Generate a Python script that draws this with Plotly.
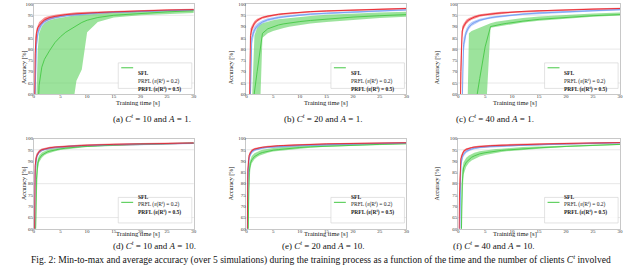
import plotly.graph_objects as go

# ---------------- data ----------------
T = [0, 0.25, 0.5, 0.75, 1, 1.5, 2, 2.5, 3, 4, 5, 6, 7, 8, 9, 10, 12, 15, 20, 25, 30]
Y_TICKS = [60, 65, 70, 75, 80, 85, 90, 95, 100]
X_TICKS = [0, 5, 10, 15, 20, 25, 30]
GRID_Y = [65, 80, 95]
SERIES_NAMES = ["SFL", "PRFL (ε(R<sup>t</sup>) = 0.2)", "<b>PRFL (ε(R<sup>t</sup>) = 0.5)</b>"]
CAPTIONS = ["(a)", "(b)", "(c)", "(d)", "(e)", "(f)"]
CLIENTS = [10, 20, 40, 10, 20, 40]
A_VALUES = [1, 1, 1, 10, 10, 10]

# panel (a)  C=10, A=1
A_SFL_MEAN = [10, 20, 35, 50, 64, 72, 75.5, 77.7, 79.5, 83, 85.5, 87.5, 89, 90.5, 91.8, 92.8, 94, 95, 95.8, 96.5, 97]
A_SFL_LO = [10, 10, 10, 10, 10, 15, 20, 25, 30, 35, 40, 45, 50, 66, 71, 87.5, 92, 94, 95, 95.5, 96]
A_SFL_HI = [10, 40, 60, 80, 87, 90, 91.5, 92.2, 92.8, 93.5, 94, 94.4, 94.7, 95, 95.2, 95.4, 95.8, 96.2, 96.8, 97.2, 97.5]
A_P2_MEAN = [10, 60, 82, 87, 89, 91, 92.2, 93, 93.5, 94, 94.5, 94.8, 95.1, 95.3, 95.5, 95.7, 96, 96.3, 96.8, 97.1, 97.4]
A_P2_LO = [10, 50, 78, 85, 87.5, 90, 91.3, 92.2, 92.8, 93.4, 94, 94.3, 94.6, 94.9, 95.1, 95.3, 95.6, 96, 96.5, 96.8, 97.1]
A_P2_HI = [10, 70, 85, 88.5, 90.5, 92, 93, 93.7, 94.1, 94.6, 95, 95.3, 95.6, 95.8, 96, 96.1, 96.4, 96.7, 97.1, 97.4, 97.7]
A_P5_MEAN = [10, 78, 87, 89.5, 90.5, 92, 93, 93.5, 94, 94.5, 95, 95.3, 95.5, 95.7, 95.8, 96, 96.2, 96.5, 97, 97.3, 97.5]
A_P5_LO = [10, 65, 84, 88, 89.5, 91, 92, 92.7, 93.2, 93.8, 94.3, 94.7, 95, 95.2, 95.4, 95.6, 95.8, 96.2, 96.6, 97, 97.2]
A_P5_HI = [10, 85, 89, 91, 92, 93, 94, 94.5, 94.8, 95.2, 95.6, 95.9, 96.1, 96.3, 96.4, 96.5, 96.7, 97, 97.4, 97.7, 97.9]

# panel (b)  C=20, A=1
B_SFL_MEAN = [10, 10, 20, 35, 48, 61, 70, 78, 87, 89, 90, 90.7, 91.2, 91.6, 91.9, 92.2, 92.7, 93.3, 94.2, 94.8, 95.3]
B_SFL_LO = [10, 10, 10, 10, 10, 20, 35, 50, 85, 87, 88, 88.8, 89.4, 89.9, 90.3, 90.7, 91.3, 92, 93, 93.8, 94.3]
B_SFL_HI = [10, 10, 25, 40, 55, 86, 89.5, 90.8, 91.5, 92.3, 92.8, 93.2, 93.5, 93.8, 94, 94.3, 94.7, 95.2, 95.8, 96.2, 96.5]
B_P2_MEAN = [10, 10, 20, 60, 85, 88.5, 90.2, 91.2, 92, 93, 93.6, 94, 94.3, 94.6, 94.9, 95.1, 95.5, 95.9, 96.5, 97, 97.4]
B_P2_LO = [10, 10, 15, 45, 82, 87, 89.2, 90.4, 91.3, 92.4, 93.1, 93.5, 93.9, 94.2, 94.5, 94.7, 95.1, 95.5, 96.1, 96.6, 97]
B_P2_HI = [10, 10, 30, 75, 87, 90, 91.3, 92.1, 92.8, 93.7, 94.2, 94.6, 94.8, 95.1, 95.3, 95.5, 95.9, 96.3, 96.9, 97.3, 97.7]
B_P5_MEAN = [10, 10, 40, 86, 89, 91.5, 92.7, 93.4, 94, 94.6, 95.1, 95.4, 95.7, 95.9, 96.1, 96.3, 96.6, 96.9, 97.3, 97.7, 98]
B_P5_LO = [10, 10, 30, 80, 87.5, 90.5, 92, 92.8, 93.4, 94.1, 94.6, 95, 95.3, 95.5, 95.7, 95.9, 96.2, 96.5, 97, 97.4, 97.7]
B_P5_HI = [10, 10, 55, 89, 90.5, 92.5, 93.4, 94, 94.5, 95, 95.5, 95.8, 96, 96.2, 96.4, 96.6, 96.9, 97.2, 97.6, 98, 98.3]

# panel (c)  C=40, A=1
C_SFL_MEAN = [10, 10, 10, 10, 10, 20, 30, 40, 52, 67, 81, 90, 90.6, 91, 91.4, 91.8, 92.4, 93.2, 94.1, 94.8, 95.3]
C_SFL_LO = [10, 10, 10, 10, 10, 10, 10, 15, 20, 30, 45, 89.5, 90, 90.4, 90.8, 91.1, 91.8, 92.6, 93.6, 94.3, 94.9]
C_SFL_HI = [10, 10, 10, 10, 10, 25, 87, 88, 88.5, 89.5, 90.5, 91.5, 92.1, 92.5, 92.9, 93.2, 93.8, 94.5, 95.3, 95.8, 96.2]
C_P2_MEAN = [10, 10, 25, 55, 82, 87.5, 89.8, 91, 91.8, 92.8, 93.5, 93.9, 94.3, 94.6, 94.9, 95.1, 95.5, 96, 96.6, 97.1, 97.5]
C_P2_LO = [10, 10, 20, 45, 78, 86, 88.8, 90.2, 91.1, 92.2, 93, 93.4, 93.8, 94.2, 94.5, 94.7, 95.1, 95.6, 96.2, 96.7, 97.1]
C_P2_HI = [10, 10, 30, 65, 85, 89, 91, 92, 92.6, 93.4, 94, 94.4, 94.7, 95, 95.3, 95.5, 95.9, 96.4, 97, 97.4, 97.8]
C_P5_MEAN = [10, 20, 70, 88, 90, 92, 93, 93.7, 94.2, 94.9, 95.3, 95.6, 95.8, 96, 96.2, 96.4, 96.7, 97, 97.4, 97.8, 98]
C_P5_LO = [10, 15, 55, 85, 88.8, 91, 92.2, 93, 93.6, 94.3, 94.8, 95.1, 95.4, 95.6, 95.8, 96, 96.3, 96.6, 97.1, 97.5, 97.7]
C_P5_HI = [10, 30, 80, 90, 91.2, 93, 93.8, 94.4, 94.8, 95.4, 95.8, 96.1, 96.3, 96.5, 96.6, 96.8, 97.1, 97.4, 97.8, 98.1, 98.3]

# panel (d)  C=10, A=10
D_SFL_MEAN = [10, 40, 82, 89, 91, 92.6, 93.5, 94, 94.4, 95, 95.4, 95.7, 96, 96.2, 96.4, 96.5, 96.8, 97.1, 97.5, 97.7, 97.9]
D_SFL_LO = [10, 25, 70, 86, 89.5, 91.5, 92.6, 93.2, 93.7, 94.4, 94.9, 95.3, 95.6, 95.8, 96, 96.2, 96.5, 96.8, 97.2, 97.5, 97.7]
D_SFL_HI = [10, 60, 88, 91, 92.5, 93.8, 94.5, 94.9, 95.2, 95.7, 96, 96.2, 96.4, 96.6, 96.8, 96.9, 97.1, 97.4, 97.8, 98, 98.2]
D_P2_MEAN = [10, 85, 91.5, 93.2, 94, 94.8, 95.2, 95.5, 95.7, 96, 96.3, 96.5, 96.6, 96.7, 96.8, 96.9, 97.1, 97.3, 97.5, 97.7, 97.9]
D_P2_LO = [10, 78, 89.5, 92.2, 93.2, 94.2, 94.7, 95, 95.2, 95.6, 95.9, 96.1, 96.2, 96.3, 96.4, 96.5, 96.7, 97, 97.2, 97.4, 97.6]
D_P2_HI = [10, 89, 93, 94, 94.7, 95.4, 95.7, 95.9, 96.1, 96.4, 96.7, 96.9, 97, 97.1, 97.2, 97.3, 97.5, 97.6, 97.8, 98, 98.2]
D_P5_MEAN = [10, 88, 92, 93.5, 94.2, 95, 95.4, 95.7, 95.9, 96.2, 96.4, 96.6, 96.7, 96.8, 96.9, 97, 97.2, 97.4, 97.6, 97.8, 98]
D_P5_LO = [10, 82, 90.5, 92.6, 93.5, 94.4, 94.9, 95.2, 95.4, 95.7, 96, 96.2, 96.3, 96.4, 96.5, 96.6, 96.8, 97, 97.3, 97.5, 97.7]
D_P5_HI = [10, 91, 93.2, 94.3, 94.9, 95.6, 95.9, 96.1, 96.3, 96.6, 96.8, 97, 97.1, 97.2, 97.3, 97.4, 97.6, 97.8, 98, 98.2, 98.3]

# panel (e)  C=20, A=10
E_SFL_MEAN = [10, 55, 85, 89, 90.5, 92, 92.8, 93.4, 93.8, 94.4, 94.8, 95.1, 95.4, 95.6, 95.8, 96, 96.3, 96.6, 97.1, 97.4, 97.7]
E_SFL_LO = [10, 40, 78, 87, 89, 90.8, 91.8, 92.5, 93, 93.7, 94.2, 94.6, 94.9, 95.1, 95.3, 95.5, 95.9, 96.3, 96.8, 97.2, 97.5]
E_SFL_HI = [10, 70, 89, 91, 92.3, 93.5, 94.2, 94.6, 95, 95.5, 95.8, 96.1, 96.3, 96.5, 96.6, 96.8, 97, 97.3, 97.6, 97.9, 98.1]
E_P2_MEAN = [10, 82, 91.5, 93.3, 94.1, 94.9, 95.3, 95.6, 95.8, 96.1, 96.3, 96.5, 96.6, 96.7, 96.8, 96.9, 97.1, 97.3, 97.6, 97.8, 98]
E_P2_LO = [10, 75, 89.8, 92.4, 93.4, 94.3, 94.8, 95.1, 95.3, 95.7, 95.9, 96.1, 96.2, 96.3, 96.4, 96.5, 96.7, 97, 97.3, 97.5, 97.7]
E_P2_HI = [10, 87, 92.8, 94, 94.7, 95.4, 95.8, 96, 96.2, 96.5, 96.7, 96.9, 97, 97.1, 97.2, 97.3, 97.5, 97.7, 97.9, 98.1, 98.3]
E_P5_MEAN = [10, 86, 92.5, 94, 94.6, 95.3, 95.7, 95.9, 96.1, 96.4, 96.6, 96.8, 96.9, 97, 97.1, 97.2, 97.4, 97.6, 97.8, 98, 98.1]
E_P5_LO = [10, 80, 91, 93.2, 94, 94.8, 95.2, 95.5, 95.7, 96, 96.2, 96.4, 96.5, 96.6, 96.7, 96.8, 97, 97.2, 97.5, 97.7, 97.8]
E_P5_HI = [10, 90, 93.6, 94.7, 95.2, 95.8, 96.1, 96.3, 96.5, 96.8, 97, 97.1, 97.2, 97.3, 97.4, 97.5, 97.7, 97.9, 98.1, 98.3, 98.4]

# panel (f)  C=40, A=10
F_SFL_MEAN = [10, 10, 40, 80, 87, 89.5, 90.8, 91.7, 92.3, 93.2, 93.7, 94.1, 94.4, 94.7, 94.9, 95.1, 95.5, 95.9, 96.5, 97, 97.4]
F_SFL_LO = [10, 10, 25, 70, 84, 87.5, 89.3, 90.3, 91, 92, 92.7, 93.2, 93.6, 94, 94.3, 94.5, 95, 95.5, 96.2, 96.7, 97.1]
F_SFL_HI = [10, 10, 55, 86, 89.5, 91.5, 92.5, 93.2, 93.7, 94.4, 94.8, 95.1, 95.3, 95.5, 95.7, 95.9, 96.2, 96.5, 97, 97.4, 97.7]
F_P2_MEAN = [10, 60, 88, 91.5, 93, 94.3, 95, 95.4, 95.7, 96.1, 96.3, 96.5, 96.6, 96.7, 96.8, 96.9, 97.1, 97.3, 97.6, 97.9, 98.1]
F_P2_LO = [10, 50, 84, 90.2, 92, 93.6, 94.4, 94.9, 95.2, 95.7, 95.9, 96.1, 96.2, 96.3, 96.4, 96.5, 96.8, 97, 97.3, 97.6, 97.8]
F_P2_HI = [10, 68, 90.5, 92.6, 93.8, 94.9, 95.5, 95.8, 96.1, 96.4, 96.6, 96.8, 96.9, 97, 97.1, 97.2, 97.4, 97.6, 97.9, 98.1, 98.3]
F_P5_MEAN = [10, 75, 91, 93.3, 94.3, 95.2, 95.7, 96, 96.2, 96.5, 96.7, 96.8, 96.9, 97, 97.1, 97.2, 97.3, 97.5, 97.8, 98, 98.2]
F_P5_LO = [10, 65, 88.5, 92.3, 93.6, 94.7, 95.2, 95.6, 95.8, 96.1, 96.3, 96.4, 96.5, 96.6, 96.7, 96.8, 97, 97.2, 97.5, 97.7, 97.9]
F_P5_HI = [10, 82, 92.5, 94, 94.9, 95.7, 96.1, 96.4, 96.6, 96.9, 97.1, 97.2, 97.3, 97.4, 97.5, 97.6, 97.7, 97.9, 98.1, 98.3, 98.5]

FIG_CAPTION = ("Fig. 2: Min-to-max and average accuracy (over 5 simulations) during the training process "
               "as a function of the time and the number of clients <i>C</i><sup><i>t</i></sup> involved")

# ---------------- styling / layout ----------------
W, H = 640, 278
FONT = "Liberation Serif"
LINE_COLORS = ["#45c845", "#6f9cf2", "#e8262e"]
FILL_COLORS = ["rgba(95,210,95,0.62)", "rgba(120,160,245,0.55)", "rgba(240,70,75,0.6)"]

# panel pixel boxes (left, right, top, bottom)
PANEL_X = [(33, 194), (247, 408), (460, 623)]
PANEL_Y = [(2, 94), (139, 231)]
XTITLE_GAP = [9, 11.5]

panels = [
    [(A_SFL_MEAN, A_SFL_LO, A_SFL_HI), (A_P2_MEAN, A_P2_LO, A_P2_HI), (A_P5_MEAN, A_P5_LO, A_P5_HI)],
    [(B_SFL_MEAN, B_SFL_LO, B_SFL_HI), (B_P2_MEAN, B_P2_LO, B_P2_HI), (B_P5_MEAN, B_P5_LO, B_P5_HI)],
    [(C_SFL_MEAN, C_SFL_LO, C_SFL_HI), (C_P2_MEAN, C_P2_LO, C_P2_HI), (C_P5_MEAN, C_P5_LO, C_P5_HI)],
    [(D_SFL_MEAN, D_SFL_LO, D_SFL_HI), (D_P2_MEAN, D_P2_LO, D_P2_HI), (D_P5_MEAN, D_P5_LO, D_P5_HI)],
    [(E_SFL_MEAN, E_SFL_LO, E_SFL_HI), (E_P2_MEAN, E_P2_LO, E_P2_HI), (E_P5_MEAN, E_P5_LO, E_P5_HI)],
    [(F_SFL_MEAN, F_SFL_LO, F_SFL_HI), (F_P2_MEAN, F_P2_LO, F_P2_HI), (F_P5_MEAN, F_P5_LO, F_P5_HI)],
]


def px(x):
    return x / W


def py(y):
    return 1 - y / H


fig = go.Figure()
layout = dict(width=W, height=H, margin=dict(l=0, r=0, t=0, b=0),
              paper_bgcolor="white", plot_bgcolor="white", showlegend=False,
              font=dict(family=FONT, color="#222"))
annotations = []
shapes = []

for i, series in enumerate(panels):
    row, col = divmod(i, 3)
    xl, xr = PANEL_X[col]
    yt, yb = PANEL_Y[row]
    sfx = "" if i == 0 else str(i + 1)
    xa, ya = "x" + sfx, "y" + sfx
    for k, (mean, lo, hi) in enumerate(series):
        fig.add_trace(go.Scatter(x=T + T[::-1], y=hi + lo[::-1], fill="toself",
                                 fillcolor=FILL_COLORS[k], line=dict(width=0),
                                 mode="lines", hoverinfo="skip", xaxis=xa, yaxis=ya))
    for k, (mean, lo, hi) in enumerate(series):
        fig.add_trace(go.Scatter(x=T, y=mean, mode="lines",
                                 line=dict(color=LINE_COLORS[k], width=0.9),
                                 xaxis=xa, yaxis=ya))
    axis_common = dict(showgrid=False, zeroline=False, showline=True, linecolor="#c8c8c8",
                       linewidth=0.6, mirror=True, ticks="", ticklen=0,
                       tickfont=dict(size=5, family=FONT, color="#333"))
    layout["xaxis" + sfx] = dict(domain=[px(xl), px(xr)], anchor=ya, range=[0, 30],
                                 tickvals=X_TICKS, ticklabelstandoff=-3, **axis_common)
    layout["yaxis" + sfx] = dict(domain=[py(yb), py(yt)], anchor=xa, range=[60, 100],
                                 tickvals=Y_TICKS, ticklabelstandoff=-1, **axis_common)
    for g in GRID_Y:
        shapes.append(dict(type="line", xref=xa + " domain", yref=ya, x0=0, x1=1, y0=g, y1=g,
                           line=dict(color="#e2e2e2", width=0.8), layer="below"))
    annotations.append(dict(text="Training time [s]", x=px((xl + xr) / 2), y=py(yb + XTITLE_GAP[row]),
                            xref="paper", yref="paper", showarrow=False,
                            font=dict(size=6.5, family=FONT, color="#111")))
    annotations.append(dict(text="Accuracy [%]", x=px(xl - 15), y=py((yt + yb) / 2),
                            xref="paper", yref="paper", showarrow=False, textangle=-90,
                            font=dict(size=6, family=FONT, color="#111")))
    cap = f"{CAPTIONS[i]} <i>C</i><sup><i>t</i></sup> = {CLIENTS[i]} and <i>A</i> = {A_VALUES[i]}."
    annotations.append(dict(text=cap, x=px((xl + xr) / 2 - 3), y=py(yb + 24 + row),
                            xref="paper", yref="paper", showarrow=False,
                            font=dict(size=9, family=FONT, color="#111")))
    # legend box drawn by hand (plotly legends cannot be this compact)
    bx1 = xr - 2
    bx0 = bx1 - 74
    by1 = yb - 6
    by0 = by1 - 26
    shapes.append(dict(type="rect", xref="paper", yref="paper", x0=px(bx0), x1=px(bx1),
                       y0=py(by1), y1=py(by0), line=dict(color="#d0d0d0", width=0.6),
                       fillcolor="rgba(255,255,255,0.85)"))
    shapes.append(dict(type="line", xref="paper", yref="paper", x0=px(bx0 + 3), x1=px(bx0 + 15),
                       y0=py(by0 + 5), y1=py(by0 + 5), line=dict(color=LINE_COLORS[0], width=1)))
    for k, name in enumerate(SERIES_NAMES):
        txt = f"<b>{name}</b>" if k == 0 else name
        annotations.append(dict(text=txt, x=px(bx0 + 18), y=py(by0 + 5 + 8 * k),
                                xref="paper", yref="paper", xanchor="left", showarrow=False,
                                font=dict(size=5.5, family=FONT, color="#222")))

annotations.append(dict(text=FIG_CAPTION, x=px(322), y=py(271), xref="paper", yref="paper",
                        showarrow=False, font=dict(size=9.5, family=FONT, color="#111")))

layout["annotations"] = annotations
layout["shapes"] = shapes
fig.update_layout(**layout)
fig.write_html("out.html", config={"displayModeBar": False},
               post_script="document.body.style.margin='0';")
